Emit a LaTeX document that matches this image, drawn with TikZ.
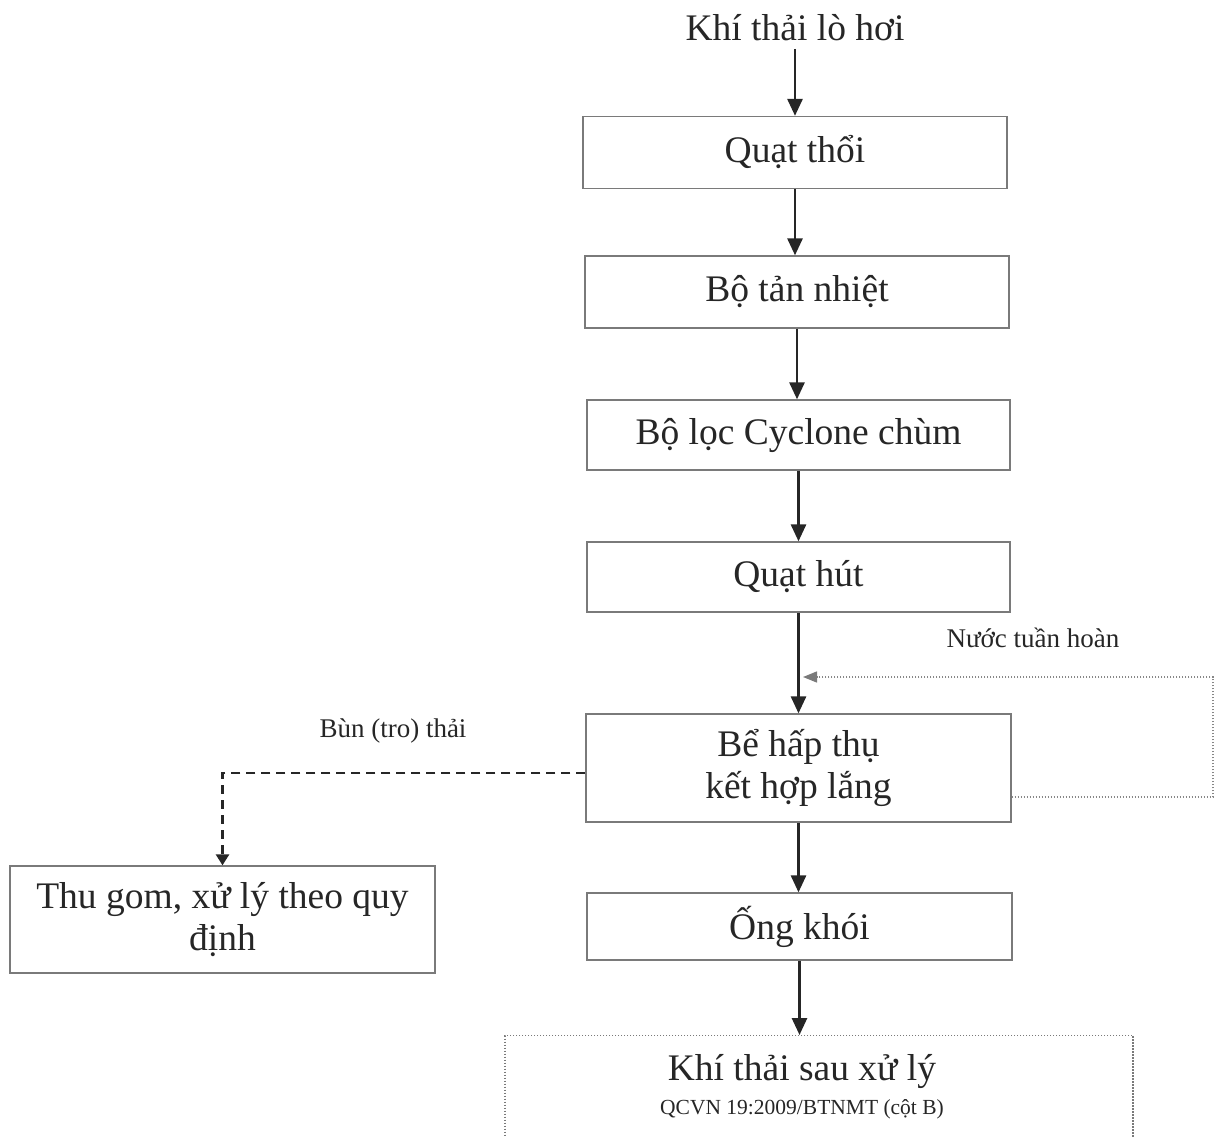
\documentclass[tikz,border=0pt]{standalone}
\usepackage{fontspec}
\setmainfont{Liberation Serif}
\usetikzlibrary{arrows.meta,calc}
\definecolor{ink}{HTML}{262626}
\definecolor{frame}{HTML}{7A7A7A}
\begin{document}
\begin{tikzpicture}[x=1pt,y=-1pt,
  bigtext/.style={text=ink, font=\fontsize{37.5}{42}\selectfont, align=center},
  smalltext/.style={text=ink, font=\fontsize{27}{31}\selectfont},
  box/.style={bigtext, draw=frame, line width=1.3pt, inner sep=0pt},
  flow/.style={draw=ink, line width=2.8pt, -{Triangle[length=17pt,width=15pt]}},
  recirc/.style={draw=frame!90, line width=1.4pt, dash pattern=on 1.4pt off 1.6pt, -{Triangle[length=14pt,width=11pt,color=frame]}},
  sludge/.style={draw=ink, line width=2.6pt, dash pattern=on 9pt off 6pt, -{Triangle[length=11pt,width=13pt]}}]
\useasboundingbox (0,0) rectangle (1216,1137);
\clip (0,0) rectangle (1216,1137);

\node[bigtext] (src) at (795,28) {Khí thải lò hơi};
\node[box, minimum width=424pt, minimum height=72pt] (b1) at (795,152.5) {Quạt thổi};
\node[box, minimum width=424pt, minimum height=72pt] (b2) at (797,292) {Bộ tản nhiệt};
\node[box, minimum width=423pt, minimum height=70pt] (b3) at (798.5,435) {Bộ lọc Cyclone chùm};
\node[box, minimum width=423pt, minimum height=70pt] (b4) at (798.5,577) {Quạt hút};
\node[box, minimum width=425pt, minimum height=108pt] (b5) at (798.5,768) {Bể hấp thụ\\kết hợp lắng};
\node[box, minimum width=425pt, minimum height=67pt] (b6) at (799.5,926.5) {Ống khói};
\node[draw=frame, line width=1.3pt, dash pattern=on 1.4pt off 1.6pt, minimum width=628pt, minimum height=130pt, anchor=north, inner sep=0pt] (b7) at (819,1035) {};
\node[bigtext] (b7t) at (802,1087) {Khí thải sau xử lý\\[-8pt]{\fontsize{21.5}{25}\selectfont QCVN 19:2009/BTNMT (cột B)}};
\node[box, minimum width=425pt, minimum height=107pt] (b8) at (222.5,919.5) {Thu gom, xử lý theo quy\\định};

\node[smalltext] (lrec) at (1033,638) {Nước tuần hoàn};
\node[smalltext] (lsl) at (393,731) {Bùn (tro) thải};

\draw[flow] ([yshift=-4pt]src.south) -- (src.south |- b1.north);
\draw[flow] (b1.south) -- (b1.south |- b2.north);
\draw[flow] (b2.south) -- (b2.south |- b3.north);
\draw[flow] (b3.south) -- (b3.south |- b4.north);
\draw[flow] (b4.south) -- (b4.south |- b5.north);
\draw[flow] (b5.south) -- (b5.south |- b6.north);
\draw[flow] (b6.south) -- (b6.south |- b7.north);

\coordinate (rc1) at (1213,797);
\coordinate (rc2) at (1213,677);
\coordinate (rcin) at (803,677);
\draw[recirc] (b5.east |- rc1) -- (rc1) -- (rc2) -- (rcin);

\coordinate (dk) at (222.5,773);
\draw[sludge] (b5.west |- dk) -- (dk) -- (b8.north);
\end{tikzpicture}
\end{document}
